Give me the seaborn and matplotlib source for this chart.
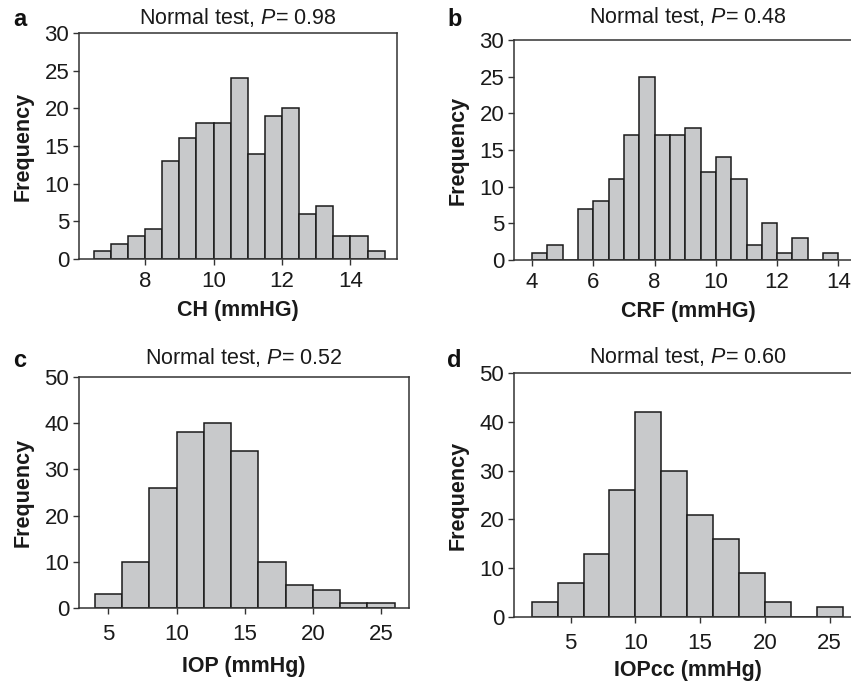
import numpy as np
import pandas as pd
import matplotlib
matplotlib.use("Agg")
import matplotlib.pyplot as plt
import seaborn as sns

# histogram counts
ch_counts = [1, 2, 3, 4, 13, 16, 18, 18, 24, 14, 19, 20, 6, 7, 3, 3, 1]
ch_start, ch_width = 6.5, 0.5

crf_counts = [1, 2, 0, 7, 8, 11, 17, 25, 17, 17, 18, 12, 14, 11, 2, 5, 1, 3, 0, 1]
crf_start, crf_width = 4.0, 0.5

iop_counts = [3, 10, 26, 38, 40, 34, 10, 5, 4, 1, 1]
iop_start, iop_width = 4.0, 2.0

iopcc_counts = [3, 7, 13, 26, 42, 30, 21, 16, 9, 3, 0, 2]
iopcc_start, iopcc_width = 2.0, 2.0

letters = ["a", "b", "c", "d"]
titles = ["Normal test, $\\mathit{P}$= 0.98", "Normal test, $\\mathit{P}$= 0.48",
          "Normal test, $\\mathit{P}$= 0.52", "Normal test, $\\mathit{P}$= 0.60"]
xlabels = ["CH (mmHG)", "CRF (mmHG)", "IOP (mmHg)", "IOPcc (mmHg)"]

sns.set_style("ticks")
plt.rcParams['font.family'] = ['Liberation Sans', 'DejaVu Sans']
plt.rcParams['mathtext.fontset'] = 'custom'
plt.rcParams['mathtext.it'] = 'Liberation Sans:italic'
plt.rcParams['mathtext.rm'] = 'Liberation Sans'

W, H = 851, 685
fig = plt.figure(figsize=(W / 100, H / 100), dpi=100)

# axes boxes in pixels: left, right, top, bottom
boxes = [(79, 397, 33, 259), (514, 862, 40, 260),
         (79, 409, 377, 608), (514, 862, 373, 617)]
xlims = [(6.07, 15.36), (3.41, 14.77), (2.85, 27.05), (0.63, 27.5)]
ylims = [(0, 30), (0, 30), (0, 50), (0, 50)]
xticks = [[8, 10, 12, 14], [4, 6, 8, 10, 12, 14], [5, 10, 15, 20, 25], [5, 10, 15, 20, 25]]
yticks = [np.arange(0, 31, 5), np.arange(0, 31, 5), np.arange(0, 51, 10), np.arange(0, 51, 10)]
title_pads = [6.5, 12, 9.5, 7]
xtick_pads = [4.5, 4.5, 7.5, 7.5]
xlabel_pads = [6, 6, 8, 4.5]
letter_pos = [(13, 26), (447, 26), (13, 367), (447, 367)]

series = [(ch_counts, ch_start, ch_width), (crf_counts, crf_start, crf_width),
          (iop_counts, iop_start, iop_width), (iopcc_counts, iopcc_start, iopcc_width)]

for i, (counts, start, width) in enumerate(series):
    l, r, t, b = boxes[i]
    ax = fig.add_axes([l / W, 1 - b / H, (r - l) / W, (b - t) / H])
    edges = start + width * np.arange(len(counts) + 1)
    df = pd.DataFrame({"value": edges[:-1] + width / 2, "count": counts})
    sns.histplot(data=df, x="value", weights="count", bins=list(edges), ax=ax,
                 color="#c8c9cb", edgecolor="#1a1a1a", linewidth=1.1, alpha=1)
    ax.set_xlim(*xlims[i])
    ax.set_ylim(*ylims[i])
    ax.set_xticks(xticks[i])
    ax.set_yticks(yticks[i])
    ax.tick_params(axis="both", labelsize=16, length=4, width=1, color="#333333",
                   labelcolor="#1a1a1a")
    ax.tick_params(axis="x", pad=xtick_pads[i])
    ax.tick_params(axis="y", pad=3)
    for s in ax.spines.values():
        s.set_color("#333333")
        s.set_linewidth(1.1)
    ax.set_title(titles[i], fontsize=15.5, pad=title_pads[i], color="#1a1a1a")
    ax.set_xlabel(xlabels[i], fontsize=15.5, fontweight="bold", color="#1a1a1a",
                  labelpad=xlabel_pads[i])
    ax.set_ylabel("Frequency", fontsize=15.5, fontweight="bold", color="#1a1a1a", labelpad=8)
    fig.text(letter_pos[i][0] / W, 1 - letter_pos[i][1] / H, letters[i],
             fontsize=17, fontweight="bold", color="#111111")

fig.savefig("out.png", dpi=100)
